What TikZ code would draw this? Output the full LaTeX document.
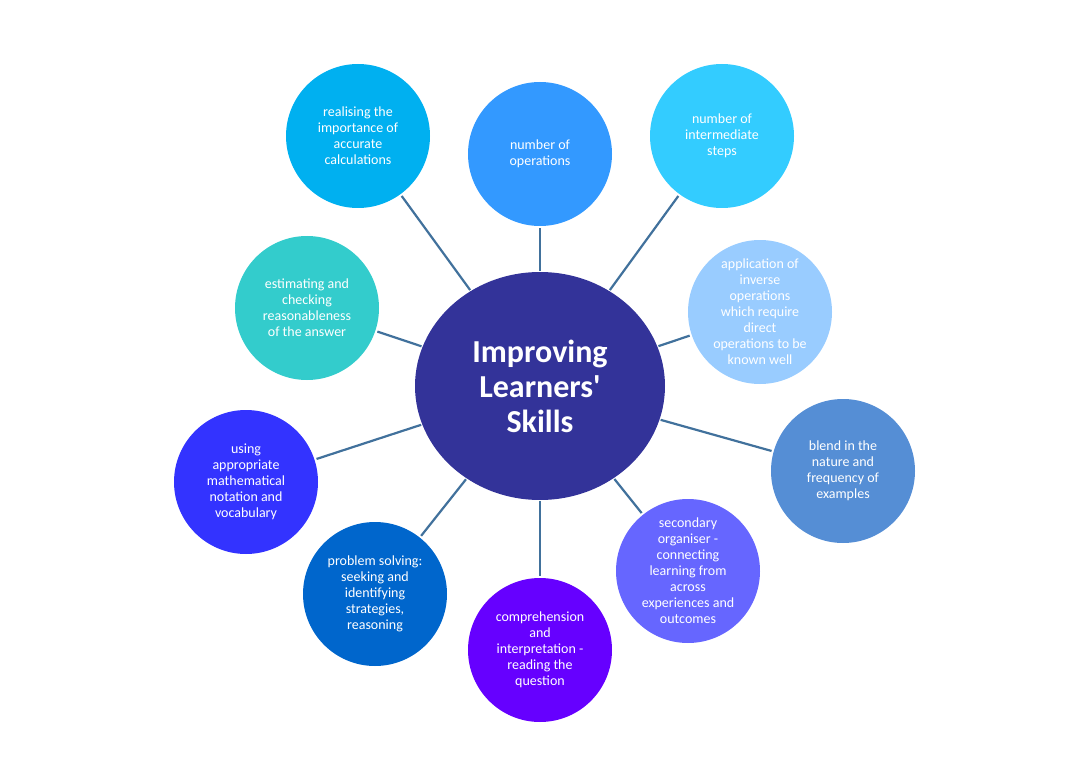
\documentclass[tikz,border=0pt]{standalone}
\usepackage{fontspec}
\setmainfont{Carlito}[Ligatures=TeXOff]
\usetikzlibrary{shapes.geometric}
\definecolor{cA}{HTML}{00B0F0}
\definecolor{cB}{HTML}{3399FF}
\definecolor{cC}{HTML}{33CCFF}
\definecolor{cD}{HTML}{99CCFF}
\definecolor{cE}{HTML}{558ED5}
\definecolor{cF}{HTML}{6666FF}
\definecolor{cG}{HTML}{6600FF}
\definecolor{cH}{HTML}{0066CC}
\definecolor{cI}{HTML}{3333FF}
\definecolor{cJ}{HTML}{33CCCC}
\definecolor{cMain}{HTML}{333399}
\definecolor{cLine}{HTML}{41719C}
\begin{document}
\begin{tikzpicture}[x=1pt,y=-1pt,
  bubble/.style={circle,minimum size=144pt,inner sep=0pt,text=white,
    font=\fontsize{14}{16}\selectfont,align=center},
  hub/.style={ellipse,minimum width=250pt,minimum height=228pt,inner sep=0pt,
    fill=cMain,text=white,font=\fontsize{32}{35}\selectfont\bfseries,align=center},
  link/.style={draw=cLine,line width=2.2pt}]
\useasboundingbox (0,0) rectangle (1080,773);
\node[hub] (c) at (540,386) {Improving\\Learners'\\Skills};
\node[bubble,fill=cA] (n1) at (358,136) {realising the\\importance of\\accurate\\calculations};
\node[bubble,fill=cB] (n2) at (540,154) {number of\\operations};
\node[bubble,fill=cC] (n3) at (722,136) {number of\\intermediate\\steps};
\node[bubble,fill=cD] (n4) at (760,312) {application of\\inverse\\operations\\which require\\direct\\operations to be\\known well};
\node[bubble,fill=cE] (n5) at (843,471) {blend in the\\nature and\\frequency of\\examples};
\node[bubble,fill=cF] (n6) at (688,571) {secondary\\organiser -\\connecting\\learning from\\across\\experiences and\\outcomes};
\node[bubble,fill=cG] (n7) at (540,650) {comprehension\\and\\interpretation -\\reading the\\question};
\node[bubble,fill=cH] (n8) at (375,594) {problem solving:\\seeking and\\identifying\\strategies,\\reasoning};
\node[bubble,fill=cI] (n9) at (246,482) {using\\appropriate\\mathematical\\notation and\\vocabulary};
\node[bubble,fill=cJ] (n10) at (307,308) {estimating and\\checking\\reasonableness\\of the answer};
\foreach \n in {n1,n2,n3,n4,n5,n6,n7,n8,n9,n10}
  \draw[link,shorten <=1pt,shorten >=2pt] (c) -- (\n);
\end{tikzpicture}
\end{document}
